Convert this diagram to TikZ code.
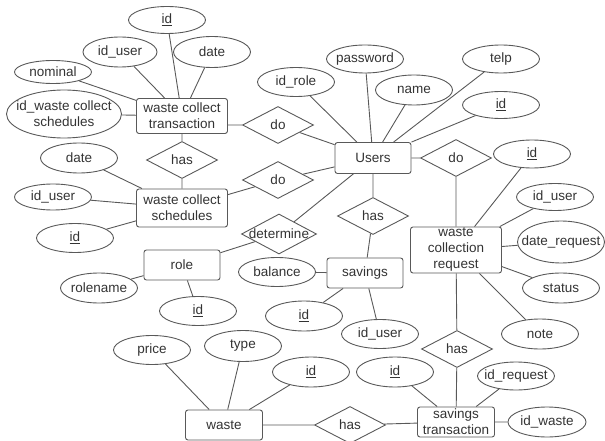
\documentclass[tikz,border=0pt]{standalone}
\usepackage{fontspec}
\setmainfont{Liberation Sans}
\usetikzlibrary{shapes.geometric}
\begin{document}
\begin{tikzpicture}[x=1pt,y=-1pt,
            font=\fontsize{13.5}{16}\selectfont,
            every node/.style={draw=black!65,text=black!80,line width=0.9pt},
            ent/.style={rectangle,rounded corners=2.5pt,minimum width=76pt,minimum height=30pt,inner ysep=0pt,align=center},
            attr/.style={ellipse,minimum width=77pt,minimum height=29pt,inner xsep=-10pt,inner ysep=0pt,align=center},
            rel/.style={diamond,aspect=1.9,minimum width=71pt,minimum height=37pt,inner sep=0pt}]
            \useasboundingbox (0,0) rectangle (605,441);
            \node[ent,minimum width=91pt,minimum height=35pt] (wct) at (182,116) {waste collect\\transaction};
            \node[ent,minimum width=91pt,minimum height=38pt] (wcs) at (182,208) {waste collect\\schedules};
            \node[ent,minimum height=31pt] (usr) at (373,158) {Users};
            \node[ent] (role) at (182,265) {role};
            \node[ent] (sav) at (365,273) {savings};
            \node[ent,minimum width=91pt,minimum height=46pt] (wcr) at (456,250) {waste\\collection\\request};
            \node[ent,minimum width=77pt,inner xsep=2pt] (st) at (456,422) {savings\\transaction};
            \node[ent,minimum width=77pt] (wst) at (224,425) {waste};
            \node[rel] (do1) at (278,125) {do};
            \node[rel] (has1) at (182,160) {has};
            \node[rel] (do2) at (278,180) {do};
            \node[rel,minimum width=75pt,minimum height=40pt,inner xsep=-5pt] (det) at (279,234) {determine};
            \node[rel] (has2) at (373,216) {has};
            \node[rel] (do3) at (456,158) {do};
            \node[rel] (has3) at (457,349) {has};
            \node[rel] (has4) at (350,425) {has};
            \node[attr,minimum height=27pt] (wctid) at (167,20) {\underline{id}};
            \node[attr,minimum width=74pt,minimum height=30pt] (wctuser) at (120,52) {id\_user};
            \node[attr,minimum height=31pt] (wctdate) at (212,52) {date};
            \node[attr,minimum height=23pt] (wctnom) at (53,72) {nominal};
            \node[attr,minimum width=115pt,minimum height=48pt] (wctsch) at (64,114) {id\_waste collect\\schedules};
            \node[attr] (usrrole) at (296,82) {id\_role};
            \node[attr,minimum height=28pt] (usrpass) at (365,59) {password};
            \node[attr,minimum height=30pt] (usrname) at (414,90) {name};
            \node[attr,minimum height=28pt] (usrtelp) at (501,59) {telp};
            \node[attr,minimum height=27pt] (usrid) at (501,105) {\underline{id}};
            \node[attr,minimum height=30pt] (wcsdate) at (79,158) {date};
            \node[attr,minimum height=26pt] (wcsuser) at (53,197) {id\_user};
            \node[attr] (wcsid) at (75,238) {\underline{id}};
            \node[attr,minimum height=30pt] (rolename) at (99,288) {rolename};
            \node[attr] (roleid) at (198,311) {\underline{id}};
            \node[attr] (savbal) at (277,272) {balance};
            \node[attr,minimum height=30pt] (savid) at (304,316) {\underline{id}};
            \node[attr] (savuser) at (380,334) {id\_user};
            \node[attr,minimum height=28pt] (wcrid) at (532,154) {\underline{id}};
            \node[attr,minimum height=27pt] (wcruser) at (555,197) {id\_user};
            \node[attr,minimum width=87pt,minimum height=42pt] (wcrdate) at (561,242) {date\_request};
            \node[attr,minimum height=30pt] (wcrstat) at (561,288) {status};
            \node[attr,minimum height=30pt] (wcrnote) at (540,334) {note};
            \node[attr,minimum height=30pt] (stid) at (395,372) {\underline{id}};
            \node[attr,minimum height=28pt] (streq) at (516,376) {id\_request};
            \node[attr,minimum width=78pt,minimum height=30pt] (stwaste) at (547,422) {id\_waste};
            \node[attr] (wstprice) at (152,350) {price};
            \node[attr,minimum height=31pt] (wsttype) at (243,346) {type};
            \node[attr,minimum height=30pt] (wstid) at (311,372) {\underline{id}};
            \draw[black!65,line width=0.9pt]
                  (wct) -- (wctid) (wct) -- (wctuser) (wct) -- (wctdate)
                  (wct) -- (wctnom) (wct) -- (wctsch)
                  (do1.west) -- (do1.west -| wct.east) (do1) -- (usr)
                  (wct) -- (has1) (has1) -- (wcs)
                  (wcs) -- (wcsdate) (wcs) -- (wcsuser) (wcs) -- (wcsid)
                  (wcs) -- (do2) (do2) -- (usr)
                  (usr) -- (usrrole) (usr) -- (usrpass) (usr) -- (usrname)
                  (usr) -- (usrtelp) (usr) -- (usrid)
                  (role) -- (det) (det) -- (usr)
                  (role) -- (rolename) (role) -- (roleid)
                  (usr) -- (has2) (has2) -- (sav)
                  (sav) -- (savbal) (sav) -- (savid) (sav) -- (savuser)
                  (usr) -- (do3) (do3) -- (wcr)
                  (wcr) -- (wcrid) (wcr) -- (wcruser) (wcr) -- (wcrdate)
                  (wcr) -- (wcrstat) (wcr) -- (wcrnote)
                  (wcr) -- (has3) (has3) -- (st)
                  (st) -- (stid) (st) -- (streq) (st) -- (stwaste)
                  (st) -- (has4) (has4) -- (wst)
                  (wst) -- (wstprice) (wst) -- (wsttype) (wst) -- (wstid);
        \end{tikzpicture}
\end{document}
